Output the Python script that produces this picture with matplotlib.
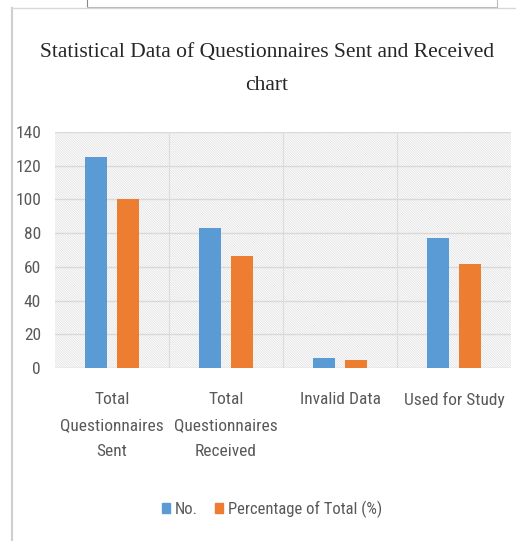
import matplotlib
matplotlib.use("Agg")
import matplotlib.pyplot as plt
import numpy as np
from matplotlib.patches import Rectangle
from matplotlib.lines import Line2D
from matplotlib import font_manager

categories = ["Total\nQuestionnaires\nSent", "Total\nQuestionnaires\nReceived", "Invalid Data", "Used for Study"]
series_names = ["No.", "Percentage of Total (%)"]
no_values = [125, 83, 6, 77]
pct_values = [100, 66.4, 4.8, 61.6]
yticks = [0, 20, 40, 60, 80, 100, 120, 140]

names = {f.name for f in font_manager.fontManager.ttflist}
sans = "Lato"
for cand in ["Roboto Condensed", "Archivo Narrow", "Barlow Semi Condensed", "Liberation Sans Narrow", "Lato"]:
    if cand in names:
        sans = cand
        break
serif = "Liberation Serif"

plt.rcParams['hatch.linewidth'] = 0.6
plt.rcParams['hatch.color'] = '#e3e3e3'

fig = plt.figure(figsize=(5.16, 5.41), dpi=100)
W, H = 516, 541
ax = fig.add_axes([55 / W, 1 - 368 / H, (511 - 55) / W, (368 - 132) / H])

# hatched background
ax.add_patch(Rectangle((0, 0), 1, 1, transform=ax.transAxes, facecolor='white',
                       edgecolor='#e3e3e3', hatch='\\' * 14, linewidth=0, zorder=0))

x = np.arange(len(categories))
bw = 0.19
off = 0.14
ax.bar(x - off, no_values, bw, color='#5B9BD5', label=series_names[0], zorder=3)
ax.bar(x + off, pct_values, bw, color='#ED7D31', label=series_names[1], zorder=3)

ax.set_xlim(-0.5, len(categories) - 0.5)
ax.set_ylim(0, 140)
ax.set_yticks(yticks)
for yv in yticks[1:]:
    ax.axhline(yv, color='#d9d9d9', lw=1.0, zorder=1)
for xv in np.arange(0.5, len(categories) - 0.5, 1):
    ax.axvline(xv, color='#dcdcdc', lw=0.8, zorder=1)
ax.axhline(0, color='#d0d0d0', lw=1.0, zorder=2)

ax.set_xticks(x)
ax.set_xticklabels(categories, fontsize=12.5, color='#595959', family=sans, linespacing=1.95)
ax.tick_params(axis='x', length=0, pad=17)
ax.tick_params(axis='y', length=0, pad=10, labelsize=12.5, labelcolor='#595959')
for t in ax.get_yticklabels():
    t.set_family(sans)
for s in ax.spines.values():
    s.set_visible(False)

fig.text(267 / W, 1 - 52 / H, "Statistical Data of Questionnaires Sent and Received",
         ha='center', va='center', fontsize=15.5, family=serif, color='#262626')
fig.text(267 / W, 1 - 86 / H, "chart", ha='center', va='center', fontsize=15.5,
         family=serif, color='#262626')

leg = fig.legend(handles=[Rectangle((0, 0), 1, 1, color='#5B9BD5'),
                          Rectangle((0, 0), 1, 1, color='#ED7D31')],
                 labels=series_names, loc='center', bbox_to_anchor=(272 / W, 1 - 509 / H),
                 ncol=2, frameon=False, handlelength=0.5, handleheight=0.6,
                 handletextpad=0.3, columnspacing=1.0,
                 prop={'family': sans, 'size': 12})
for t in leg.get_texts():
    t.set_color('#595959')

# frame lines
def pl(x0, y0, x1, y1, c, lw=1.0):
    fig.add_artist(Line2D([x0 / W, x1 / W], [1 - y0 / H, 1 - y1 / H], color=c, lw=lw,
                          transform=fig.transFigure))

pl(12, 8, 12, 541, '#cfcfcf', 1.5)
pl(12, 8, 516, 8, '#d8d8d8', 1.0)
pl(87, 0, 87, 7, '#888888', 0.8)
pl(497, 0, 497, 7, '#bbbbbb', 0.8)
pl(87, 6.5, 497, 6.5, '#bbbbbb', 0.8)

fig.savefig("out.png", dpi=100)
